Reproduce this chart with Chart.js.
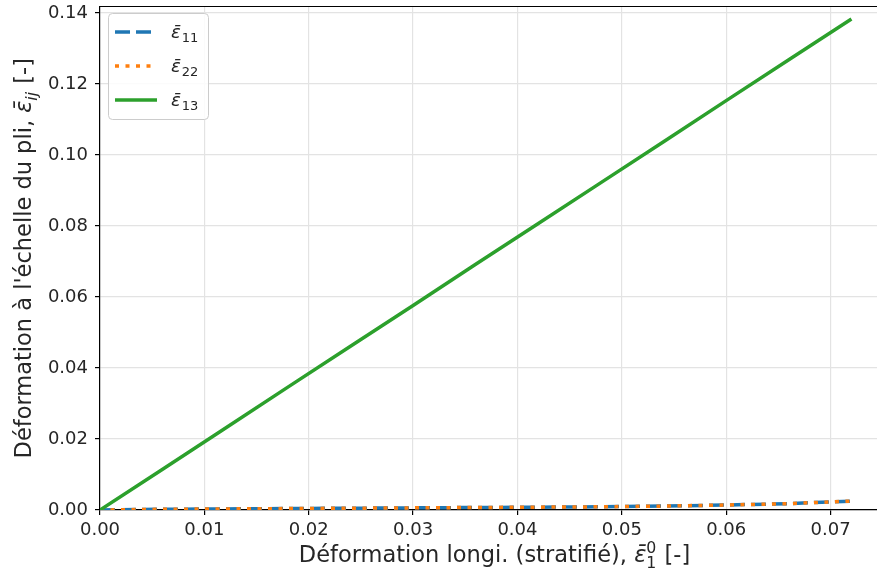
<!DOCTYPE html>
<html>
<head>
<meta charset="utf-8">
<script src="https://cdn.jsdelivr.net/npm/chart.js@4.4.1/dist/chart.umd.min.js"></script>
<style>
  html, body { margin: 0; padding: 0; background: #fff; }
  #wrap { width: 877px; height: 573px; overflow: hidden; }
  #box { width: 900px; height: 573px; }
</style>
</head>
<body>
<div id="wrap"><div id="box"><canvas id="c" width="900" height="573"></canvas></div></div>
<script>
/* ---------- données ---------- */
const strainLam = [0, 0.006, 0.012, 0.018, 0.024, 0.030, 0.036, 0.042, 0.048, 0.054, 0.060, 0.066, 0.072];
const eps11 = [0, 0.0002, 0.0003, 0.0004, 0.0005, 0.0006, 0.0007, 0.0008, 0.0009, 0.0011, 0.0014, 0.0018, 0.0025];
const eps22 = [0, 0.0002, 0.0003, 0.0004, 0.0005, 0.0006, 0.0007, 0.0008, 0.0009, 0.0011, 0.0014, 0.0018, 0.0025];
const eps13 = [0, 0.0115, 0.0230, 0.0346, 0.0461, 0.0576, 0.0692, 0.0807, 0.0922, 0.1037, 0.1153, 0.1268, 0.1383];

const xTicks = [0, 0.01, 0.02, 0.03, 0.04, 0.05, 0.06, 0.07];
const yTicks = [0, 0.02, 0.04, 0.06, 0.08, 0.10, 0.12, 0.14];

const C_BLUE = "#1f77b4", C_ORANGE = "#ff7f0e", C_GREEN = "#2ca02c";
const FONT = "'DejaVu Sans', sans-serif";
const TXT = "#262626";

function pts(ys) { return strainLam.map((x, i) => ({ x, y: ys[i] })); }

/* ---------- texte avec indices / exposants ---------- */
// run: { t, it, sub, sup } ; size = taille de base
function runWidth(ctx, r, size) {
  if (r.sub !== undefined || r.sup !== undefined) {
    ctx.font = `${r.it ? "italic " : ""}${size * 0.7}px ${FONT}`;
    return Math.max(ctx.measureText(r.sub || "").width, ctx.measureText(r.sup || "").width) + 1;
  }
  ctx.font = `${r.it ? "italic " : ""}${size}px ${FONT}`;
  return ctx.measureText(r.t).width;
}
function drawRuns(ctx, runs, cx, y, size) {
  const total = runs.reduce((s, r) => s + runWidth(ctx, r, size), 0);
  let x = cx - total / 2;
  ctx.textBaseline = "alphabetic";
  ctx.textAlign = "left";
  runs.forEach(r => {
    const w = runWidth(ctx, r, size);
    if (r.sub !== undefined || r.sup !== undefined) {
      ctx.font = `${r.it ? "italic " : ""}${size * 0.7}px ${FONT}`;
      if (r.sub) ctx.fillText(r.sub, x, y + size * 0.25);
      if (r.sup) ctx.fillText(r.sup, x, y - size * 0.42);
    } else {
      ctx.font = `${r.it ? "italic " : ""}${size}px ${FONT}`;
      ctx.fillText(r.t, x, y);
    }
    x += w;
  });
}

const EPS = "\u03B5\u0304";

const xLabel = [{ t: "Déformation longi. (stratifié), " }, { t: EPS, it: true }, { sub: "1", sup: "0" }, { t: " [-]" }];
const yLabel = [{ t: "Déformation à l'échelle du pli, " }, { t: EPS, it: true }, { sub: "ij", it: true }, { t: " [-]" }];

const legendItems = [
  { sub: "11", color: C_BLUE, dash: [15, 6] },
  { sub: "22", color: C_ORANGE, dash: [4, 6.5] },
  { sub: "13", color: C_GREEN, dash: [] }
];

/* ---------- plugins ---------- */
const decor = {
  id: "decor",
  afterDraw(chart) {
    const { ctx, chartArea: a } = chart;
    ctx.save();
    // cadre haut
    ctx.strokeStyle = "#000";
    ctx.lineWidth = 1.2;
    ctx.beginPath();
    ctx.moveTo(a.left, a.top);
    ctx.lineTo(a.right, a.top);
    ctx.stroke();

    // titres des axes
    ctx.fillStyle = TXT;
    drawRuns(ctx, xLabel, (a.left + a.right) / 2, 562, 22.5);
    ctx.save();
    ctx.translate(31, (a.top + a.bottom) / 2);
    ctx.rotate(-Math.PI / 2);
    drawRuns(ctx, yLabel, 0, 0, 22.5);
    ctx.restore();

    // légende
    const lx = a.left + 8, ly = a.top + 6.5, lw = 100, lh = 106;
    ctx.fillStyle = "rgba(255,255,255,0.85)";
    ctx.strokeStyle = "#cccccc";
    ctx.lineWidth = 1;
    ctx.beginPath();
    ctx.roundRect(lx + 0.5, ly + 0.5, lw, lh, 4);
    ctx.fill();
    ctx.stroke();
    legendItems.forEach((it, i) => {
      const yy = ly + 19 + i * 34;
      ctx.strokeStyle = it.color;
      ctx.lineWidth = 3.5;
      ctx.setLineDash(it.dash);
      ctx.lineCap = "butt";
      ctx.beginPath();
      ctx.moveTo(lx + 7, yy);
      ctx.lineTo(lx + 49, yy);
      ctx.stroke();
      ctx.setLineDash([]);
      ctx.fillStyle = TXT;
      ctx.textAlign = "left";
      ctx.textBaseline = "alphabetic";
      ctx.font = `italic 18px ${FONT}`;
      ctx.fillText(EPS, lx + 63, yy + 6);
      const w = ctx.measureText(EPS).width;
      ctx.font = `13px ${FONT}`;
      ctx.fillText(it.sub, lx + 63 + w + 1, yy + 10);
    });
    ctx.restore();
  }
};

/* ---------- graphique ---------- */
new Chart(document.getElementById("c"), {
  type: "line",
  data: {
    datasets: [
      { label: "e11", data: pts(eps11), borderColor: C_BLUE, borderWidth: 3.5, borderDash: [15, 6], pointRadius: 0, tension: 0, borderCapStyle: "butt", order: 2 },
      { label: "e22", data: pts(eps22), borderColor: C_ORANGE, borderWidth: 3.5, borderDash: [4, 6.5], pointRadius: 0, tension: 0, borderCapStyle: "butt", order: 1 },
      { label: "e13", data: pts(eps13), borderColor: C_GREEN, borderWidth: 3.5, pointRadius: 0, tension: 0, order: 0 }
    ]
  },
  options: {
    responsive: false,
    animation: false,
    layout: { autoPadding: false, padding: { top: 6.5, right: 11, left: 0, bottom: 0 } },
    plugins: { legend: { display: false }, tooltip: { enabled: false } },
    scales: {
      x: {
        type: "linear",
        min: 0, max: 0.0756,
        afterBuildTicks: s => { s.ticks = xTicks.map(v => ({ value: v })); },
        afterFit: s => { s.height = 63; s.paddingLeft = 0; s.paddingRight = 0; },
        ticks: { color: TXT, font: { family: FONT, size: 18 }, padding: 5, maxRotation: 0, callback: v => v.toFixed(2) },
        grid: { color: "#e3e3e3", lineWidth: 1.2, tickColor: "#000", tickLength: 5, drawTicks: true },
        border: { color: "#000", width: 1.2 }
      },
      y: {
        min: 0, max: 0.1418,
        afterBuildTicks: s => { s.ticks = yTicks.map(v => ({ value: v })); },
        afterFit: s => { s.width = 100; s.paddingTop = 0; s.paddingBottom = 0; },
        ticks: { color: TXT, font: { family: FONT, size: 18 }, padding: 7, callback: v => v.toFixed(2) },
        grid: { color: "#e3e3e3", lineWidth: 1.2, tickColor: "#000", tickLength: 5, drawTicks: true },
        border: { color: "#000", width: 1.2 }
      }
    }
  },
  plugins: [decor]
});
</script>
</body>
</html>
